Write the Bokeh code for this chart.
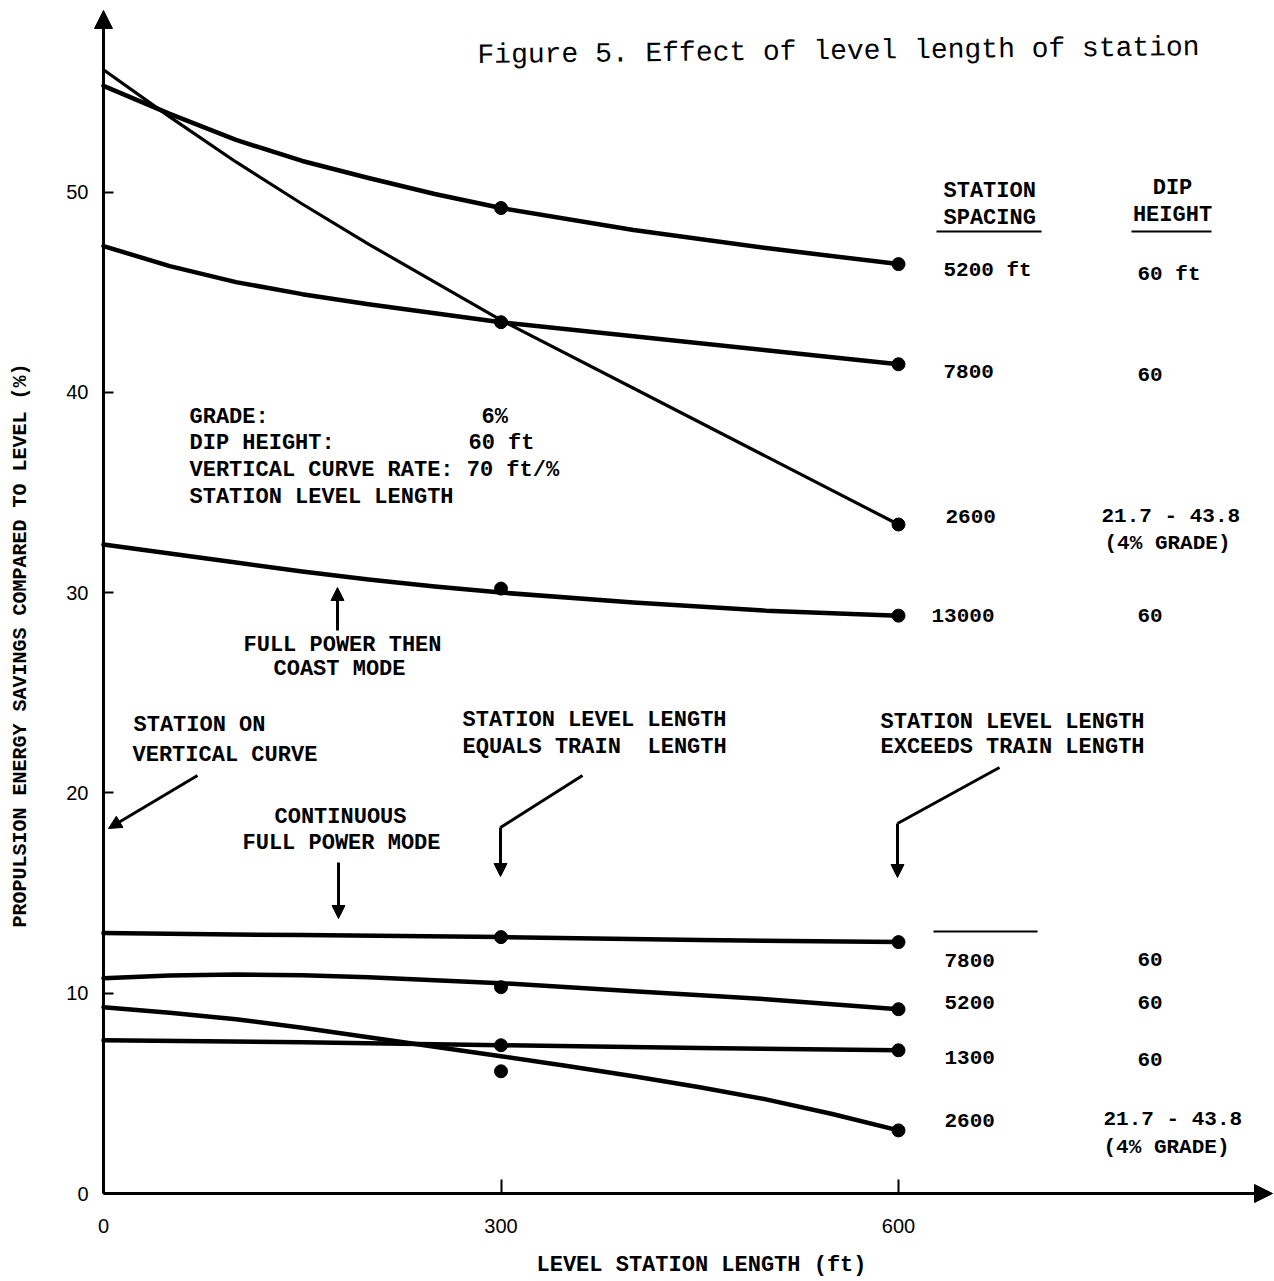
import math
from bokeh.plotting import figure
from bokeh.models import Range1d, Label, Arrow, NormalHead, FixedTicker
from bokeh.embed import file_html
from bokeh.resources import INLINE

# ---------------- data ----------------
x_5200_top = [0, 50, 100, 150, 200, 250, 300, 400, 500, 600]
y_5200_top = [55.3, 53.9, 52.6, 51.55, 50.7, 49.9, 49.2, 48.1, 47.2, 46.4]

x_2600_top = [0, 50, 100, 150, 200, 250, 300, 400, 500, 600]
y_2600_top = [56.1, 53.75, 51.5, 49.4, 47.4, 45.5, 43.6, 40.2, 36.8, 33.4]

x_7800_top = [0, 50, 100, 150, 200, 250, 300, 400, 500, 600]
y_7800_top = [47.3, 46.3, 45.5, 44.9, 44.4, 43.95, 43.5, 42.8, 42.1, 41.4]

x_13000 = [0, 50, 100, 150, 200, 250, 300, 400, 500, 600]
y_13000 = [32.4, 31.95, 31.5, 31.05, 30.65, 30.3, 30.0, 29.5, 29.1, 28.85]

x_7800_low = [0, 150, 300, 450, 600]
y_7800_low = [13.0, 12.9, 12.8, 12.65, 12.55]

x_5200_low = [0, 50, 100, 150, 200, 250, 300, 400, 500, 600]
y_5200_low = [10.75, 10.88, 10.93, 10.9, 10.8, 10.65, 10.5, 10.1, 9.7, 9.2]

x_1300_low = [0, 150, 300, 450, 600]
y_1300_low = [7.65, 7.55, 7.4, 7.27, 7.15]

x_2600_low = [0, 50, 100, 150, 200, 250, 300, 350, 400, 450, 500, 550, 600]
y_2600_low = [9.3, 9.02, 8.7, 8.27, 7.8, 7.33, 6.85, 6.37, 5.85, 5.3, 4.7, 3.97, 3.15]

dots_x = [300, 300, 300, 300, 300, 300, 300, 600, 600, 600, 600, 600, 600, 600, 600]
dots_y = [49.2, 43.5, 30.2, 12.8, 10.3, 7.4, 6.1, 46.4, 41.4, 33.4, 28.85, 12.55, 9.2, 7.15, 3.15]

x_ticks = [0, 300, 600]
y_ticks = [0, 10, 20, 30, 40, 50]

spacing_labels = ["5200 ft", "7800", "2600", "13000", "7800", "5200", "1300", "2600"]
dip_labels = ["60 ft", "60", "21.7 - 43.8", "60", "60", "60", "60", "21.7 - 43.8"]

TITLE = "Figure 5.  Effect of level length of station"
X_TITLE = "LEVEL STATION LENGTH (ft)"
Y_TITLE = "PROPULSION ENERGY SAVINGS COMPARED TO LEVEL (%)"

# ---------------- layout helpers ----------------
W, H = 1274, 1281
PX0, PY0 = 103, 1193      # pixel position of the data origin
SX, SY = 1.325, 20.03     # pixels per data unit


def dx(px):
    return (px - PX0) / SX


def dy(py):
    return (PY0 - py) / SY


MONO = "Liberation Mono"

# the plotting frame covers the whole canvas; axes are pinned at x=0 / y=0
p = figure(width=W, height=H,
           x_range=Range1d(dx(0), dx(W)), y_range=Range1d(dy(H), dy(0)),
           output_backend="svg", toolbar_location=None,
           min_border=0, min_border_left=0, min_border_right=0,
           min_border_top=0, min_border_bottom=0)
p.grid.visible = False
p.outline_line_color = None
p.background_fill_color = "white"
p.border_fill_color = "white"

p.xaxis.ticker = FixedTicker(ticks=x_ticks)
p.yaxis.ticker = FixedTicker(ticks=y_ticks)
p.xaxis.fixed_location = 0
p.yaxis.fixed_location = 0
p.xaxis.bounds = (0, dx(1262))
p.yaxis.bounds = (0, dy(22))
for ax in (p.xaxis[0], p.yaxis[0]):
    ax.axis_line_width = 3
    ax.axis_line_color = "black"
    ax.major_tick_out = 0
    ax.major_tick_line_width = 2
    ax.major_tick_line_color = "black"
    ax.minor_tick_in = 0
    ax.minor_tick_out = 0
    ax.major_label_text_font = "Liberation Sans"
    ax.major_label_text_font_size = "20px"
    ax.major_label_text_color = "black"
p.xaxis.major_tick_in = 14
p.yaxis.major_tick_in = 10
p.xaxis.major_label_standoff = 25
p.yaxis.major_label_standoff = 15

# ---------------- curves ----------------
curves = [
    (x_5200_top, y_5200_top, 4.5),
    (x_2600_top, y_2600_top, 3.2),
    (x_7800_top, y_7800_top, 4.5),
    (x_13000, y_13000, 4.5),
    (x_7800_low, y_7800_low, 4.5),
    (x_5200_low, y_5200_low, 4.5),
    (x_1300_low, y_1300_low, 4.5),
    (x_2600_low, y_2600_low, 4.5),
]
for xs, ys, lw in curves:
    p.line(xs, ys, line_width=lw, line_color="black", line_join="round", line_cap="round")

p.scatter(dots_x, dots_y, size=13, marker="circle", fill_color="black", line_color="black")

# ---------------- axis arrow heads ----------------
p.add_layout(Arrow(end=NormalHead(size=18, fill_color="black", line_color="black"),
                   x_start=0, y_start=dy(40), x_end=0, y_end=dy(10),
                   line_width=3, line_color="black"))
p.add_layout(Arrow(end=NormalHead(size=18, fill_color="black", line_color="black"),
                   x_start=dx(1240), y_start=0, x_end=dx(1272), y_end=0,
                   line_width=3, line_color="black"))


# ---------------- texts ----------------
def add_text(text, px, py, size=22, align="left", bold=True, font=MONO, angle=0.0):
    p.add_layout(Label(x=dx(px), y=dy(py), text=text,
                       text_font=font, text_font_size=f"{size}px",
                       text_font_style="bold" if bold else "normal",
                       text_align=align, text_baseline="middle",
                       text_color="black", angle=angle))


add_text(TITLE, 477, 55, size=28, bold=False, angle=0.011)
add_text(X_TITLE, 701, 1265, size=22, align="center")
add_text(Y_TITLE, 20, 645, size=20, align="center", angle=math.pi / 2)

# parameter block
add_text("GRADE:", 189, 417)
add_text("6%", 481, 417)
add_text("DIP HEIGHT:", 189, 443)
add_text("60 ft", 468, 443)
add_text("VERTICAL CURVE RATE: 70 ft/%", 189, 470)
add_text("STATION LEVEL LENGTH", 189, 497)

# mode annotations
add_text("FULL POWER THEN", 342, 645, align="center")
add_text("COAST MODE", 339, 669, align="center")
add_text("STATION ON", 133, 725)
add_text("VERTICAL CURVE", 132, 755)
add_text("CONTINUOUS", 340, 817, align="center")
add_text("FULL POWER MODE", 341, 843, align="center")
add_text("STATION LEVEL LENGTH", 462, 720)
add_text("EQUALS TRAIN", 462, 747)
add_text("LENGTH", 647, 747)
add_text("STATION LEVEL LENGTH", 880, 722)
add_text("EXCEEDS TRAIN LENGTH", 880, 747)

# legend columns
add_text("STATION", 943, 191)
add_text("SPACING", 943, 218)
add_text("DIP", 1172, 188, align="center")
add_text("HEIGHT", 1172, 215, align="center")
p.line([dx(936), dx(1041)], [dy(231), dy(231)], line_width=2, line_color="black")
p.line([dx(1131), dx(1211)], [dy(231), dy(231)], line_width=2, line_color="black")
p.line([dx(933), dx(1037)], [dy(931), dy(931)], line_width=2, line_color="black")

spacing_pos = [(943, 270), (943, 371), (945, 516), (931, 615),
               (944, 960), (944, 1002), (944, 1057), (944, 1120)]
dip_pos = [(1137, 274), (1137, 374), (1101, 516), (1137, 615),
           (1137, 959), (1137, 1002), (1137, 1059), (1103, 1119)]
for t, (px, py) in zip(spacing_labels, spacing_pos):
    add_text(t, px, py, size=21)
for t, (px, py) in zip(dip_labels, dip_pos):
    add_text(t, px, py, size=21)
add_text("(4% GRADE)", 1104, 543, size=21)
add_text("(4% GRADE)", 1103, 1147, size=21)


# ---------------- annotation arrows ----------------
def arrow(px0, py0, px1, py1, size=13):
    p.add_layout(Arrow(end=NormalHead(size=size, fill_color="black", line_color="black"),
                       x_start=dx(px0), y_start=dy(py0), x_end=dx(px1), y_end=dy(py1),
                       line_width=3, line_color="black"))


arrow(337, 630, 337, 587)            # full power then coast
arrow(197, 775, 108, 828)            # station on vertical curve
arrow(338, 862, 338, 918)            # continuous full power
p.line([dx(582), dx(500)], [dy(775), dy(827)], line_width=3, line_color="black")
arrow(500, 827, 500, 876)            # equals train length
p.line([dx(999), dx(897)], [dy(767), dy(823)], line_width=3, line_color="black")
arrow(897, 823, 897, 877)            # exceeds train length

open("out.html", "w").write(file_html(p, INLINE))
